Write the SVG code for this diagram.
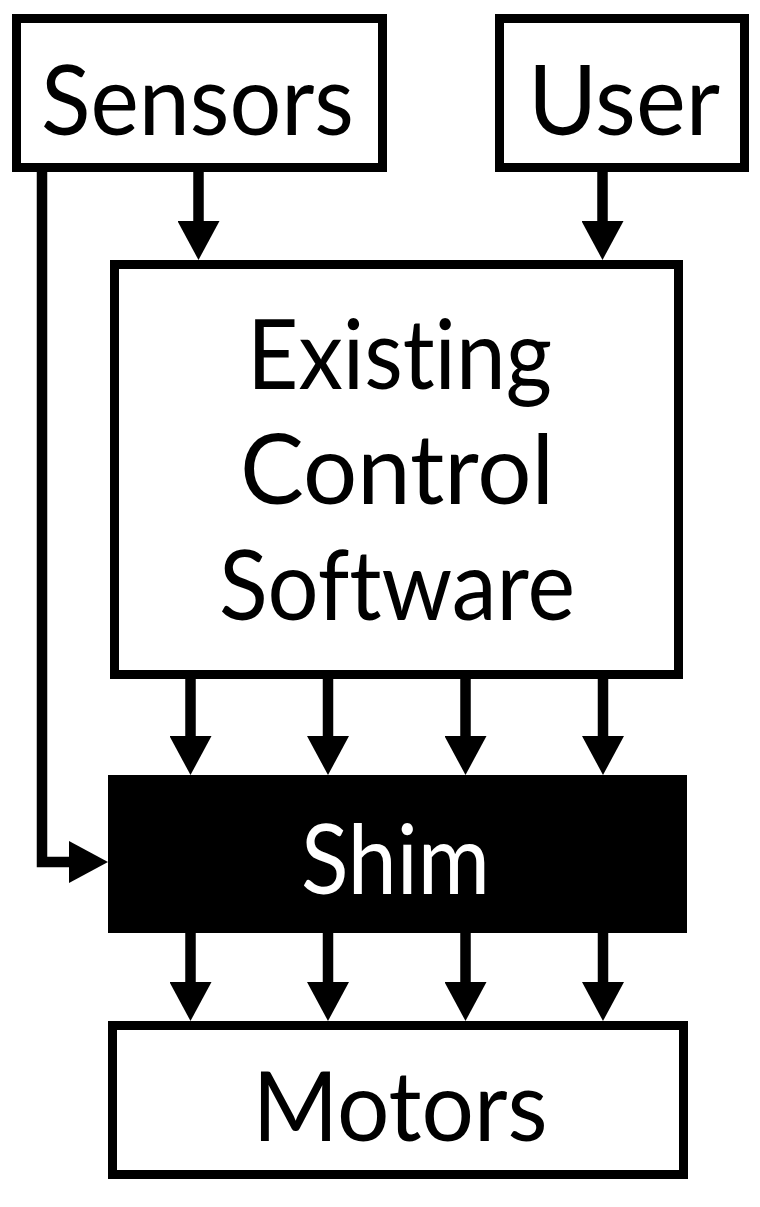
<svg xmlns="http://www.w3.org/2000/svg" width="760" height="1207" viewBox="0 0 760 1207">
<style>
.box{fill:#fff;stroke:#000;stroke-width:9}
.lbl{font-family:Lato,"Open Sans","Liberation Sans",sans-serif;font-size:96px;text-anchor:middle;fill:#000;font-variant-ligatures:none;font-feature-settings:"liga" 0,"clig" 0}
.wire{fill:none;stroke:#000;stroke-width:10.5;stroke-linejoin:miter}
</style>
<defs>
<marker id="ah" viewBox="0 0 39 42" markerWidth="39" markerHeight="42" refX="0" refY="21" markerUnits="userSpaceOnUse" orient="auto">
<path d="M0,0 L39,21 L0,42 Z" fill="#000"/>
</marker>
</defs>
<rect width="760" height="1207" fill="#fff"/>
<g id="sensors">
<rect class="box" x="16.5" y="18.5" width="366" height="149"/>
<text class="lbl" x="197.5" y="135" textLength="313" lengthAdjust="spacingAndGlyphs">Sensors</text>
</g>
<g id="user">
<rect class="box" x="499.5" y="18.5" width="245" height="149"/>
<text class="lbl" x="624" y="135" textLength="192" lengthAdjust="spacingAndGlyphs">User</text>
</g>
<g id="existing">
<rect class="box" x="114.5" y="264.5" width="564" height="410"/>
<text class="lbl" x="399.5" y="389" textLength="305" lengthAdjust="spacingAndGlyphs">Existing</text>
<text class="lbl" x="397" y="504" textLength="314" lengthAdjust="spacingAndGlyphs">Control</text>
<text class="lbl" x="397" y="620" textLength="356" lengthAdjust="spacingAndGlyphs">Software</text>
</g>
<g id="shim">
<rect x="108" y="775" width="579" height="158" fill="#000"/>
<text class="lbl" x="395.5" y="894" textLength="189" lengthAdjust="spacingAndGlyphs" style="fill:#fff">Shim</text>
</g>
<g id="motors">
<rect class="box" x="112.5" y="1025.5" width="571" height="149"/>
<text class="lbl" x="400" y="1141" textLength="295" lengthAdjust="spacingAndGlyphs">Motors</text>
</g>
<g id="connectors">
<path class="wire" d="M198.5,172 V221" marker-end="url(#ah)"/>
<path class="wire" d="M602.5,172 V221" marker-end="url(#ah)"/>
<path class="wire" d="M42,172 V862 H69" marker-end="url(#ah)"/>
<path class="wire" d="M190.5,679 V736" marker-end="url(#ah)"/>
<path class="wire" d="M328,679 V736" marker-end="url(#ah)"/>
<path class="wire" d="M465.5,679 V736" marker-end="url(#ah)"/>
<path class="wire" d="M603,679 V736" marker-end="url(#ah)"/>
<path class="wire" d="M190.5,933 V982" marker-end="url(#ah)"/>
<path class="wire" d="M328,933 V982" marker-end="url(#ah)"/>
<path class="wire" d="M465.5,933 V982" marker-end="url(#ah)"/>
<path class="wire" d="M603,933 V982" marker-end="url(#ah)"/>
</g>
</svg>
